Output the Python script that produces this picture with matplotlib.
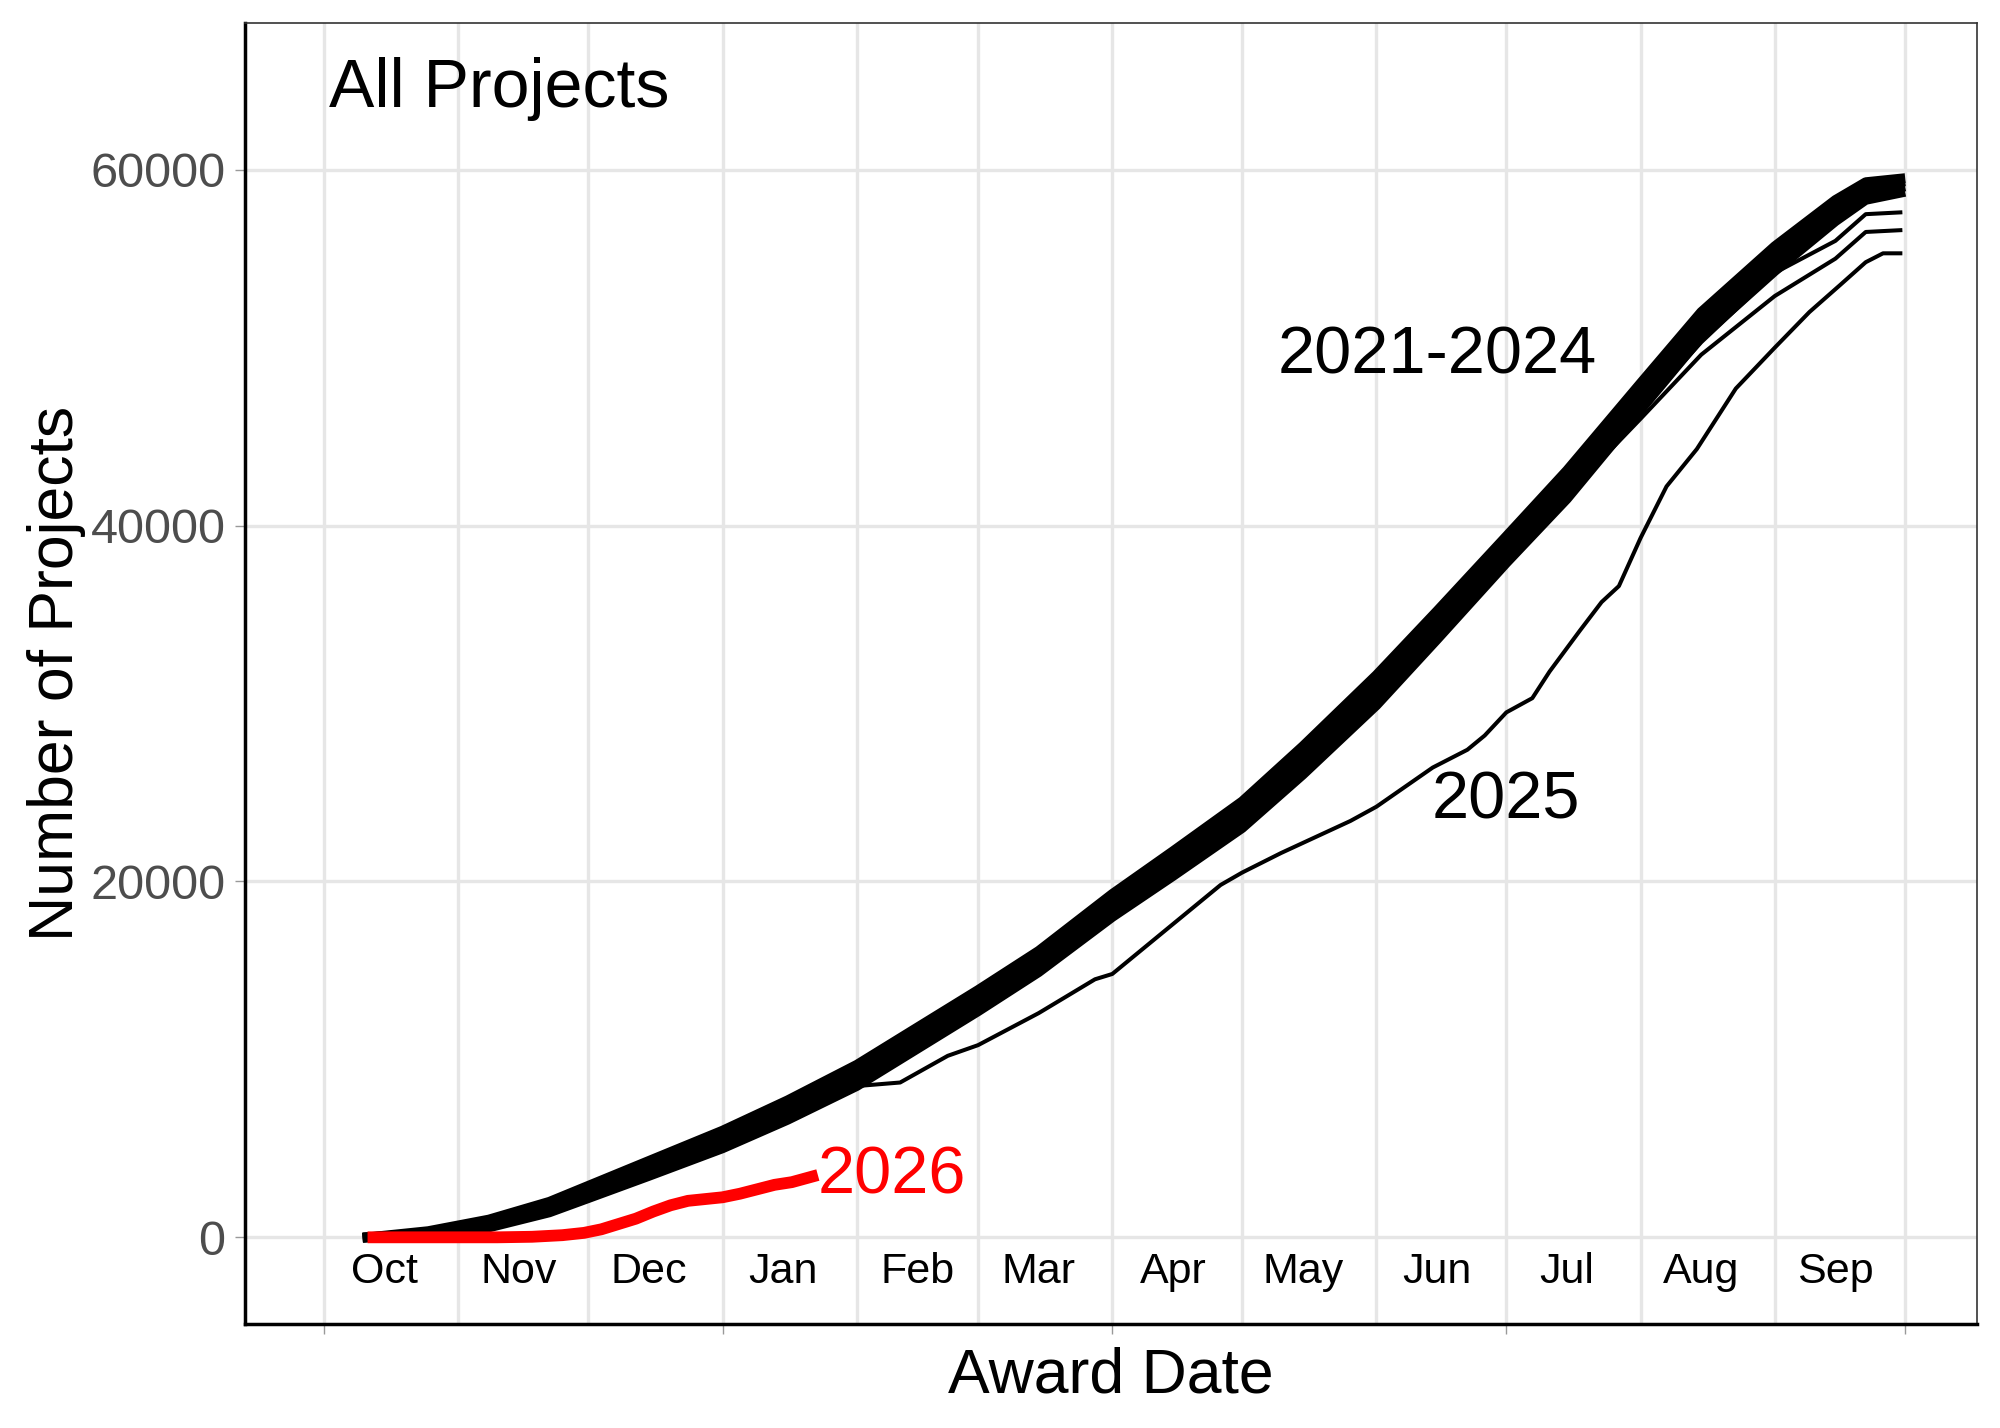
"""
Cumulative number of awarded projects by award date, fiscal years 2021-2026.
"""
import matplotlib
matplotlib.use("Agg")
import matplotlib.pyplot as plt
import matplotlib.dates as mdates
from matplotlib.ticker import NullFormatter
import numpy as np

plt.rcParams['font.family'] = ['Liberation Sans', 'DejaVu Sans']

# fiscal year starts Oct 1; x values are days since the start of the fiscal year
fy_start = np.datetime64('2025-10-01')

days = [10, 24, 38, 52, 61, 75, 92, 107, 123, 137, 151, 165, 182,
        196, 212, 226, 243, 257, 273, 287, 304, 318, 335, 349, 356, 364]

fy2021 = [0, 350, 1000, 2000, 2900, 4300, 6000, 7700, 9700, 11800, 13900, 16100, 19300,
          21700, 24500, 27600, 31600, 35200, 39400, 43100, 48000, 52000, 55700, 58300, 59300, 59500]
fy2022 = [0, 250, 850, 1850, 2700, 4000, 5700, 7400, 9300, 11400, 13500, 15700, 18900,
          21200, 24000, 27000, 31000, 34600, 38900, 42500, 47400, 51500, 55200, 57900, 59000, 59300]
fy2023 = [0, 200, 700, 1650, 2450, 3750, 5300, 7000, 8900, 11000, 13100, 15300, 18500,
          20800, 23500, 26500, 30500, 34100, 38400, 42000, 46900, 51000, 54700, 57500, 58600, 59000]
fy2024 = [0, 120, 550, 1400, 2200, 3450, 5000, 6600, 8500, 10600, 12700, 14900, 18000,
          20300, 23000, 26000, 29900, 33600, 37900, 41500, 46500, 50600, 54300, 57100, 58300, 58700]
# earlier years, drawn thin
older_a = [0, 200, 700, 1500, 2300, 3500, 5100, 6900, 8700, 11000, 13500, 16000, 19200,
           21500, 24300, 27200, 31100, 34600, 38800, 42200, 46500, 50300, 54200, 56000, 57500, 57600]
older_b = [0, 150, 600, 1400, 2200, 3400, 4900, 6600, 8500, 10800, 13100, 15500, 18700,
           21000, 23800, 26800, 30700, 34200, 38300, 41700, 46000, 49600, 52900, 55000, 56500, 56600]

days25 = [10, 24, 38, 52, 61, 75, 92, 107, 123, 133, 144, 151, 165, 178, 182, 188, 198,
          207, 212, 221, 237, 243, 256, 264, 268, 273, 279, 283, 290, 295, 299, 304,
          310, 317, 326, 335, 343, 350, 356, 360, 364]
fy2025 = [0, 200, 650, 1500, 2200, 3400, 4900, 6600, 8500, 8700, 10200, 10800, 12600, 14500,
          14800, 16000, 18000, 19800, 20500, 21600, 23400, 24200, 26400, 27400, 28200, 29500,
          30300, 31800, 34100, 35700, 36600, 39300, 42200, 44300, 47700, 50000, 52000, 53500,
          54800, 55300, 55300]

days26 = [10, 20, 30, 40, 48, 55, 60, 64, 68, 72, 76, 80, 84, 88, 92, 96, 100, 104, 108, 111, 114]
fy2026 = [0, 0, 0, 0, 30, 120, 250, 450, 750, 1050, 1450, 1800, 2050, 2150, 2250, 2450,
          2700, 2950, 3100, 3300, 3500]

month_labels = ['Oct', 'Nov', 'Dec', 'Jan', 'Feb', 'Mar', 'Apr', 'May', 'Jun', 'Jul', 'Aug', 'Sep']
month_mid_days = [14, 45, 75, 106, 137, 165, 196, 226, 257, 287, 318, 349]


def to_dates(d):
    return fy_start + np.array(d).astype('timedelta64[D]')


fig = plt.figure(figsize=(20, 14.28), dpi=100)
ax = fig.add_axes([0.1225, 0.0728, 0.866, 0.9111])

for series in (older_a, older_b):
    ax.plot(to_dates(days), series, color='black', lw=2.9, solid_joinstyle='round')
ax.plot(to_dates(days25), fy2025, color='black', lw=2.9, solid_joinstyle='round')
for series in (fy2024, fy2023, fy2022, fy2021):
    ax.plot(to_dates(days), series, color='black', lw=7, solid_joinstyle='round')
ax.plot(to_dates(days26), fy2026, color='red', lw=8.5, solid_capstyle='butt')

# annotations
ax.text(to_dates([1])[0], 63550, 'All Projects', fontsize=49, ha='left', va='baseline')
ax.text(to_dates([257])[0], 48550, '2021-2024', fontsize=48, ha='center', va='baseline')
ax.text(to_dates([273])[0], 23550, '2025', fontsize=48, ha='center', va='baseline')
ax.text(to_dates([days26[-1] + 0.5])[0], 2450, '2026', fontsize=48, color='red',
        ha='left', va='baseline')
for lab, d in zip(month_labels, month_mid_days):
    ax.text(to_dates([d])[0], -2560, lab, fontsize=31, ha='center', va='baseline')

x0 = mdates.date2num(fy_start)
ax.set_xlim(x0 - 18.3, x0 + 381.7)
ax.set_ylim(-4874, 68244)

ax.xaxis.set_major_locator(mdates.MonthLocator(bymonth=[1, 4, 7, 10]))
ax.xaxis.set_minor_locator(mdates.MonthLocator())
ax.xaxis.set_major_formatter(NullFormatter())
ax.set_yticks([0, 20000, 40000, 60000])
ax.set_yticklabels(['0', '20000', '40000', '60000'])

ax.set_axisbelow(True)
ax.grid(which='both', axis='x', color='#E6E6E6', lw=2.4)
ax.grid(which='major', axis='y', color='#E6E6E6', lw=2.4)

ax.tick_params(axis='x', which='major', length=7, width=1, color='#999999')
ax.tick_params(axis='x', which='minor', length=0)
ax.tick_params(axis='y', length=7, width=1, color='#999999', labelcolor='#4D4D4D',
               labelsize=35, pad=7)

for side in ('left', 'bottom'):
    ax.spines[side].set_color('black')
    ax.spines[side].set_linewidth(2.5)
for side in ('top', 'right'):
    ax.spines[side].set_color('#333333')
    ax.spines[side].set_linewidth(1.2)

ax.set_xlabel('Award Date', fontsize=45)
ax.xaxis.label.set_va('baseline')
ax.xaxis.set_label_coords(0.5, -0.053)
ax.set_ylabel('Number of Projects', fontsize=45)
ax.yaxis.label.set_va('baseline')
ax.yaxis.set_label_coords(-0.0995, 0.5)

fig.savefig('out.png', dpi=100)
